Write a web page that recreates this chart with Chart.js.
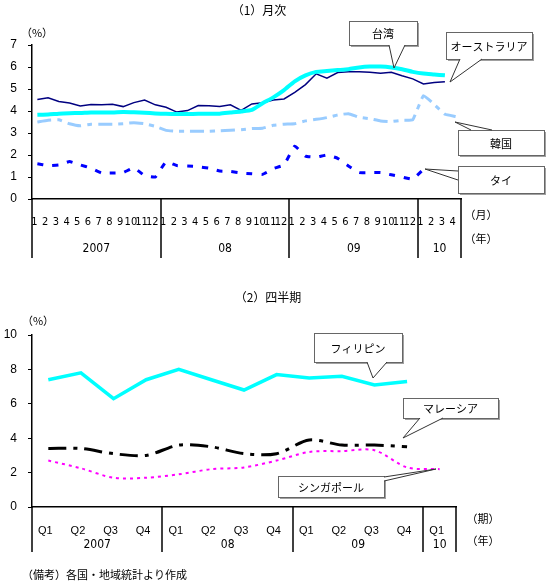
<!DOCTYPE html>
<html>
<head>
<meta charset="utf-8">
<script src="https://cdn.jsdelivr.net/npm/chart.js@4.4.1/dist/chart.umd.min.js"></script>
<style>
  body { margin: 0; background: #fff; width: 548px; height: 585px; position: relative; overflow: hidden; }
  canvas { position: absolute; left: 0; }
  #monthly { top: 0; }
  #quarterly { top: 300px; }
</style>
</head>
<body>
<canvas id="monthly" width="548" height="306"></canvas>
<canvas id="quarterly" width="548" height="285"></canvas>
<script>
'use strict'

// (1) monthly, Jan 2007 - Apr 2010
const months = ['1','2','3','4','5','6','7','8','9','10','11','12',
                '1','2','3','4','5','6','7','8','9','10','11','12',
                '1','2','3','4','5','6','7','8','9','10','11','12',
                '1','2','3','4'];
const monthYears = ['2007', '08', '09', '10'];

const taiwan = [3.83, 3.84, 3.88, 3.9, 3.91, 3.93, 3.93, 3.93, 3.95, 3.94, 3.92, 3.89,
                3.87, 3.86, 3.86, 3.87, 3.87, 3.88, 3.93, 3.98, 4.05, 4.35, 4.62, 4.95,
                5.35, 5.62, 5.78, 5.82, 5.86, 5.9, 5.98, 6.02, 6.02, 5.98, 5.9, 5.78,
                5.7, 5.66, 5.62, null];
const australia = [4.52, 4.6, 4.43, 4.36, 4.23, 4.29, 4.28, 4.31, 4.2, 4.38, 4.5, 4.28,
                   4.17, 3.95, 4.02, 4.25, 4.24, 4.2, 4.28, 4.03, 4.32, 4.38, 4.5, 4.55,
                   4.85, 5.2, 5.69, 5.49, 5.75, 5.78, 5.78, 5.76, 5.72, 5.76, 5.6, 5.46,
                   5.23, 5.29, 5.33, null];
const korea = [3.5, 3.58, 3.6, 3.42, 3.33, 3.4, 3.4, 3.4, 3.42, 3.47, 3.42, 3.3,
               3.12, 3.08, 3.08, 3.08, 3.08, 3.1, 3.12, 3.15, 3.2, 3.22, 3.35, 3.4,
               3.42, 3.55, 3.62, 3.7, 3.82, 3.88, 3.72, 3.65, 3.55, 3.52, 3.58, 3.6,
               4.7, 4.3, 3.85, 3.75];
const thailand = [1.6, 1.52, 1.55, 1.7, 1.55, 1.4, 1.18, 1.18, 1.2, 1.42, 1.06, 1.0,
                  1.7, 1.52, 1.5, 1.47, 1.4, 1.27, 1.25, 1.18, 1.15, 1.12, 1.38, 1.55,
                  2.4, 1.95, 1.9, 2.0, 1.85, 1.5, 1.2, 1.2, 1.2, 1.1, 1.0, 0.9,
                  1.35, null, null, null];

// (2) quarterly, 2007Q1 - 2010Q1
const quarters = ['Q1','Q2','Q3','Q4','Q1','Q2','Q3','Q4','Q1','Q2','Q3','Q4','Q1'];
const quarterYears = ['2007', '08', '09', '10'];

const philippines = [7.4, 7.8, 6.3, 7.4, 8.0, 7.4, 6.8, 7.7, 7.5, 7.6, 7.1, 7.3, null];
const malaysia = [3.4, 3.4, 3.1, 3.0, 3.6, 3.5, 3.1, 3.1, 3.9, 3.6, 3.6, 3.5, null];
const singapore = [2.7, 2.25, 1.7, 1.7, 1.9, 2.2, 2.3, 2.7, 3.2, 3.25, 3.3, 2.3, 2.2];

const JP = '"Noto Sans CJK JP", sans-serif';
const NUM = '"Liberation Sans", Arial, sans-serif';
const NARROW = '"Liberation Sans Narrow", "DejaVu Sans Condensed", sans-serif';

function callout(ctx, x, y, w, h, text, b1, b2, tip) {
  ctx.fillStyle = '#a0a0a0';
  ctx.fillRect(x + 2, y + 2, w, h);
  ctx.fillStyle = '#fff';
  ctx.fillRect(x, y, w, h);
  ctx.strokeStyle = '#666';
  ctx.lineWidth = 1;
  ctx.strokeRect(x + 0.5, y + 0.5, w, h);
  ctx.beginPath();
  ctx.moveTo(b1[0], b1[1]);
  ctx.lineTo(tip[0], tip[1]);
  ctx.lineTo(b2[0], b2[1]);
  ctx.closePath();
  ctx.fillStyle = '#fff';
  ctx.fill();
  ctx.beginPath();
  ctx.moveTo(b1[0], b1[1]);
  ctx.lineTo(tip[0], tip[1]);
  ctx.lineTo(b2[0], b2[1]);
  ctx.strokeStyle = '#333';
  ctx.stroke();
  ctx.fillStyle = '#000';
  ctx.font = '11px ' + JP;
  ctx.textAlign = 'center';
  ctx.textBaseline = 'middle';
  ctx.fillText(text, x + w / 2, y + h / 2 + 1);
}

// vertical year separators under the x axis + year labels
function yearRow(ctx, xs, ys, bounds, years, lineBottom, labelY) {
  ctx.strokeStyle = '#000';
  ctx.lineWidth = 1.5;
  bounds.forEach(v => {
    const x = Math.round(xs.getPixelForValue(v));
    ctx.beginPath();
    ctx.moveTo(x, ys.bottom);
    ctx.lineTo(x, lineBottom);
    ctx.stroke();
  });
  ctx.fillStyle = '#000';
  ctx.font = '12px ' + NARROW;
  ctx.textAlign = 'center';
  ctx.textBaseline = 'middle';
  for (let i = 0; i < years.length; i++) {
    const a = xs.getPixelForValue(bounds[i]);
    const b = xs.getPixelForValue(bounds[i + 1]);
    ctx.fillText(years[i], (a + b) / 2, labelY);
  }
}

const monthlyDecor = {
  id: 'monthlyDecor',
  afterDraw(chart) {
    const ctx = chart.ctx;
    const xs = chart.scales.x, ys = chart.scales.y;
    ctx.save();
    yearRow(ctx, xs, ys, [-0.5, 11.5, 23.5, 35.5, 39.5], monthYears, 258, 249);

    ctx.font = '12px ' + JP;
    ctx.textAlign = 'center';
    ctx.textBaseline = 'middle';
    ctx.fillText('（1）月次', 259, 10);
    // title of the lower panel sits just above its canvas
    ctx.fillText('（2）四半期', 268, 297);
    ctx.font = '11px ' + JP;
    ctx.fillText('（%）', 37, 33);
    ctx.fillText('（月）', 481, 215);
    ctx.fillText('（年）', 481, 239);

    callout(ctx, 349, 21, 68, 24, '台湾', [389, 45], [405, 45], [394, 68]);
    callout(ctx, 446, 32, 86, 27, 'オーストラリア', [460, 59], [482, 59], [450, 82]);
    callout(ctx, 458, 130, 86, 25, '韓国', [471, 130], [492, 130], [455, 122]);
    callout(ctx, 458, 166, 86, 27, 'タイ', [458, 171], [458, 180], [425, 169]);
    ctx.restore();
  }
};

const quarterlyDecor = {
  id: 'quarterlyDecor',
  afterDraw(chart) {
    const ctx = chart.ctx;
    const xs = chart.scales.x, ys = chart.scales.y;
    ctx.save();
    yearRow(ctx, xs, ys, [-0.5, 3.5, 7.5, 11.5, 12.5], quarterYears, 252, 245);

    ctx.fillStyle = '#000';
    ctx.font = '11px ' + JP;
    ctx.textAlign = 'center';
    ctx.textBaseline = 'middle';
    ctx.fillText('（%）', 38, 21);
    ctx.fillText('（期）', 483, 219);
    ctx.fillText('（年）', 483, 241);
    ctx.textAlign = 'left';
    ctx.fillText('（備考）各国・地域統計より作成', 22, 275);

    callout(ctx, 314, 33, 88, 29, 'フィリピン', [367, 62], [387, 62], [373, 78]);
    callout(ctx, 403, 98, 95, 20, 'マレーシア', [420, 118], [443, 118], [403, 138]);
    callout(ctx, 278, 176, 106, 21, 'シンガポール', [384, 177], [384, 181], [436, 169]);
    ctx.restore();
  }
};

function baseOptions(yMax, yStep, rightPad, topPad, xHeight, xFont) {
  return {
    responsive: false,
    animation: false,
    devicePixelRatio: 1,
    layout: { padding: { left: 0, right: rightPad, top: topPad, bottom: 0 } },
    plugins: { legend: { display: false }, tooltip: { enabled: false } },
    elements: { point: { radius: 0 } },
    scales: {
      x: {
        offset: true,
        grid: { display: false },
        border: { display: true, color: '#000', width: 1.5 },
        ticks: { autoSkip: false, maxRotation: 0, color: '#000', padding: 9, labelOffset: -3,
                 font: { family: xFont, size: 11 } },
        afterFit: s => { s.height = xHeight; }
      },
      y: {
        min: 0, max: yMax,
        grid: { drawOnChartArea: false, drawTicks: true, tickLength: 4, color: '#000' },
        border: { display: true, color: '#000', width: 1.5 },
        ticks: { stepSize: yStep, color: '#000', padding: 11, font: { family: NUM, size: 12 } },
        afterFit: s => { s.width = 32; }
      }
    }
  };
}

new Chart(document.getElementById('monthly'), {
  type: 'line',
  data: {
    labels: months,
    datasets: [
      { label: '台湾', data: taiwan, borderColor: '#00FFFF', borderWidth: 4, tension: 0.2 },
      { label: 'オーストラリア', data: australia, borderColor: '#000080', borderWidth: 1.5, tension: 0 },
      { label: '韓国', data: korea, borderColor: '#99CCFF', borderWidth: 3, borderDash: [14, 6, 5, 6], tension: 0.1 },
      { label: 'タイ', data: thailand, borderColor: '#0000FF', borderWidth: 3, borderDash: [6, 9], tension: 0.1 }
    ]
  },
  options: baseOptions(7, 1, 87, 45, 107, NARROW),
  plugins: [monthlyDecor]
});

new Chart(document.getElementById('quarterly'), {
  type: 'line',
  data: {
    labels: quarters,
    datasets: [
      { label: 'フィリピン', data: philippines, borderColor: '#00FFFF', borderWidth: 3.5, tension: 0 },
      { label: 'マレーシア', data: malaysia, borderColor: '#000000', borderWidth: 3, borderDash: [18, 7, 4, 7], tension: 0.3 },
      { label: 'シンガポール', data: singapore, borderColor: '#FF00FF', borderWidth: 2, borderDash: [3, 4], tension: 0.3 }
    ]
  },
  options: baseOptions(10, 2, 92, 35, 78, NUM),
  plugins: [quarterlyDecor]
});
</script>
</body>
</html>
